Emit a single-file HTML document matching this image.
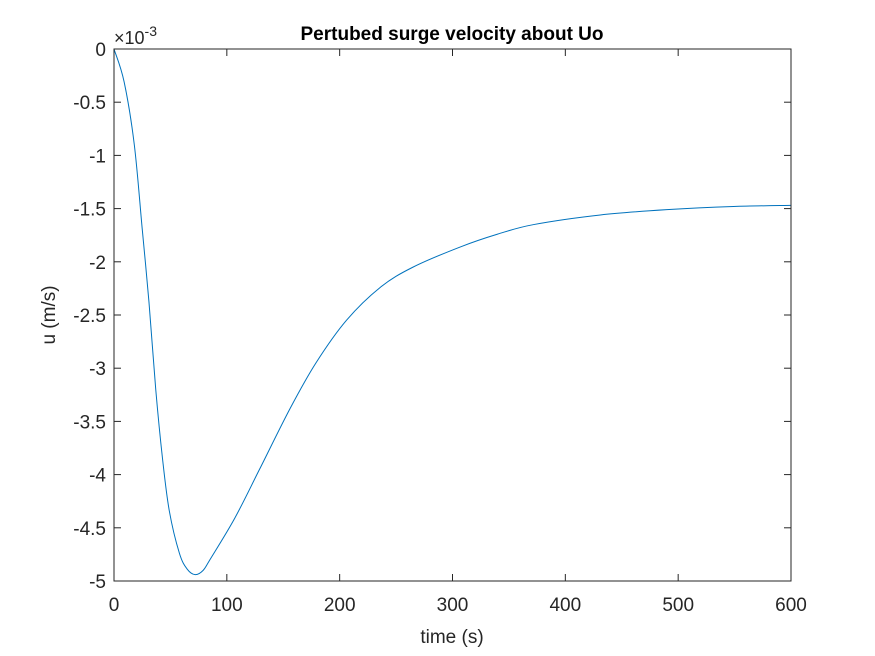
<!DOCTYPE html>
<html><head><meta charset="utf-8"><style>
body{margin:0;background:#fff;}
svg{display:block;font-family:"Liberation Sans",Arial,sans-serif;}
</style></head><body>
<svg id="chart" width="875" height="656">
<rect width="875" height="656" fill="#fff"/>
<rect x="114" y="49" width="677" height="532" fill="#fff"/>
<g id="ticks"></g>
<path id="line" fill="none" stroke="#0072BD" stroke-width="1"/>
<rect x="114" y="49" width="677" height="532" fill="none" stroke="#262626" stroke-width="1"/>
<text x="452" y="40" text-anchor="middle" font-size="19" font-weight="bold" fill="#000">Pertubed surge velocity about Uo</text>
<text x="452" y="643" text-anchor="middle" font-size="19" fill="#262626">time (s)</text>
<text transform="translate(55,315) rotate(-90)" text-anchor="middle" font-size="19" fill="#262626">u (m/s)</text>
<text x="114" y="44" font-size="18" fill="#262626">×10<tspan dy="-8" font-size="14">-3</tspan></text>
</svg>
<script>
const times=[0,9,18,25,31,37,43,49,58,65,72,79,85,107,129,156,179,206,236,265,307,340,372,431,490,549,600];
const values=[0,-0.31,-0.90,-1.69,-2.38,-3.20,-3.85,-4.34,-4.74,-4.89,-4.94,-4.90,-4.80,-4.41,-3.95,-3.38,-2.95,-2.55,-2.24,-2.05,-1.86,-1.74,-1.65,-1.56,-1.51,-1.48,-1.47];
const xTicks=[0,100,200,300,400,500,600];
const yTicks=[0,-0.5,-1,-1.5,-2,-2.5,-3,-3.5,-4,-4.5,-5];
const yTickLabels=["0","-0.5","-1","-1.5","-2","-2.5","-3","-3.5","-4","-4.5","-5"];
const X0=114,X1=791,Y0=49,Y1=581;
function xs(t){return X0+(t-0)/(600-0)*(X1-X0);}
function ys(v){return Y0+(0-v)/(0-(-5))*(Y1-Y0);}
const NS="http://www.w3.org/2000/svg";
const g=document.getElementById('ticks');
xTicks.forEach(t=>{
  const x=xs(t);
  const l1=document.createElementNS(NS,'line');
  l1.setAttribute('x1',x);l1.setAttribute('x2',x);l1.setAttribute('y1',Y1);l1.setAttribute('y2',Y1-7);
  l1.setAttribute('stroke','#262626');
  
  
  g.appendChild(l1);
  const l2=document.createElementNS(NS,'line');
  l2.setAttribute('x1',x);l2.setAttribute('x2',x);l2.setAttribute('y1',Y0);l2.setAttribute('y2',Y0+7);
  l2.setAttribute('stroke','#262626');
  
  
  g.appendChild(l2);
  const tx=document.createElementNS(NS,'text');
  tx.setAttribute('x',x);tx.setAttribute('y',Y1+30);tx.setAttribute('text-anchor','middle');
  tx.setAttribute('font-size','19');tx.setAttribute('fill','#262626');
  tx.textContent=String(t);
  
  
  g.appendChild(tx);
});
yTicks.forEach((v,i)=>{
  const y=ys(v);
  const l1=document.createElementNS(NS,'line');
  l1.setAttribute('x1',X0);l1.setAttribute('x2',X0+7);l1.setAttribute('y1',y);l1.setAttribute('y2',y);
  l1.setAttribute('stroke','#262626');
  
  
  g.appendChild(l1);
  const l2=document.createElementNS(NS,'line');
  l2.setAttribute('x1',X1);l2.setAttribute('x2',X1-7);l2.setAttribute('y1',y);l2.setAttribute('y2',y);
  l2.setAttribute('stroke','#262626');
  
  
  g.appendChild(l2);
  const tx=document.createElementNS(NS,'text');
  tx.setAttribute('x',X0-8);tx.setAttribute('y',y+7);tx.setAttribute('text-anchor','end');
  tx.setAttribute('font-size','19');tx.setAttribute('fill','#262626');
  tx.textContent=yTickLabels[i];
  
  
  g.appendChild(tx);
});
const P=times.map((t,i)=>[xs(t),ys(values[i])]);
let d='M'+P[0][0]+','+P[0][1];
for(let i=0;i<P.length-1;i++){
  const p0=P[Math.max(0,i-1)],p1=P[i],p2=P[i+1],p3=P[Math.min(P.length-1,i+2)];
  const c1=[p1[0]+(p2[0]-p0[0])/6,p1[1]+(p2[1]-p0[1])/6];
  const c2=[p2[0]-(p3[0]-p1[0])/6,p2[1]-(p3[1]-p1[1])/6];
  d+=' C'+c1[0]+','+c1[1]+' '+c2[0]+','+c2[1]+' '+p2[0]+','+p2[1];
}
document.getElementById('line').setAttribute('d',d);
</script>
</body></html>
